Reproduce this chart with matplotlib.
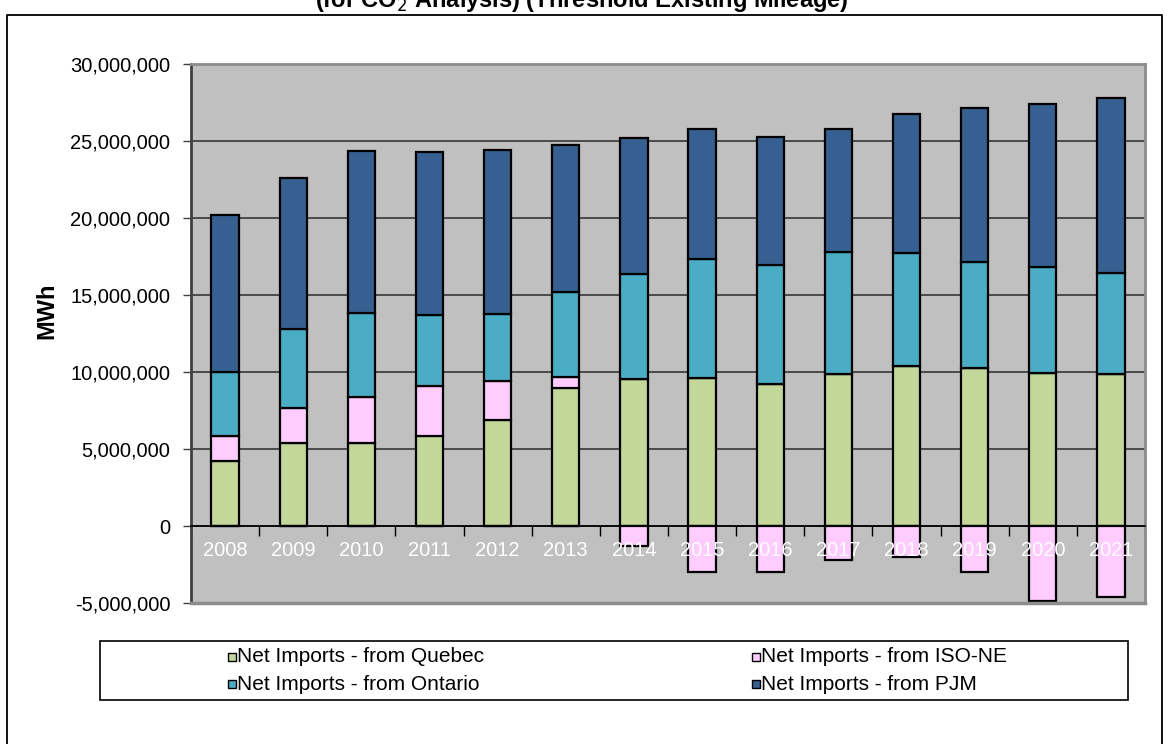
import matplotlib
matplotlib.use("Agg")
import matplotlib.pyplot as plt
from matplotlib.patches import Rectangle
from matplotlib.lines import Line2D
from matplotlib.ticker import FuncFormatter, FixedLocator
import numpy as np

plt.rcParams['font.family'] = ['Liberation Sans', 'DejaVu Sans']

# Net imports by source (MWh)
years = ['2008', '2009', '2010', '2011', '2012', '2013', '2014',
         '2015', '2016', '2017', '2018', '2019', '2020', '2021']
quebec = [4220000, 5370000, 5370000, 5860000, 6880000, 8940000, 9520000,
          9590000, 9220000, 9870000, 10390000, 10240000, 9960000, 9870000]
iso_ne = [1620000, 2270000, 3030000, 3230000, 2560000, 760000, -1300000,
          -3010000, -3010000, -2210000, -1990000, -3010000, -4870000, -4590000]
ontario = [4180000, 5130000, 5450000, 4630000, 4350000, 5510000, 6860000,
           7730000, 7730000, 7940000, 7360000, 6920000, 6840000, 6580000]
pjm = [10170000, 9810000, 10520000, 10570000, 10650000, 9550000, 8810000,
       8480000, 8290000, 7990000, 9000000, 10000000, 10600000, 11360000]

series_labels = ['Net Imports - from Quebec', 'Net Imports - from ISO-NE',
                 'Net Imports - from Ontario', 'Net Imports - from PJM']
colors = {'quebec': '#C4D79B', 'iso_ne': '#FFCCFF',
          'ontario': '#4BACC6', 'pjm': '#366092'}

W, H = 1169, 744
fig = plt.figure(figsize=(W / 100, H / 100), dpi=100)
fig.patch.set_facecolor('white')


def fx(px):
    return px / W


def fy(py):
    return 1 - py / H


# Outer chart border (left, top, right)
fig.add_artist(Line2D([fx(7), fx(7), fx(1162), fx(1162)],
                      [0, fy(15), fy(15), 0], color='black', lw=1.3,
                      transform=fig.transFigure))

# Heading, partly above the canvas
fig.text(fx(582), fy(7), '(for CO$_2$ Analysis) (Threshold Existing Mileage)',
         ha='center', va='baseline', fontsize=17, fontweight='bold')

ax = fig.add_axes([fx(191), fy(603), (1145 - 191) / W, (603 - 64) / H])
ax.set_facecolor('#C0C0C0')

x = np.arange(len(years))
q = np.array(quebec, dtype=float)
iso = np.array(iso_ne, dtype=float)
ont = np.array(ontario, dtype=float)
pj = np.array(pjm, dtype=float)

iso_pos = np.clip(iso, 0, None)
iso_neg = np.clip(iso, None, 0)
width = 0.40
bar_kw = dict(width=width, edgecolor='black', linewidth=1.6, zorder=3)

ax.bar(x, q, color=colors['quebec'], **bar_kw)
ax.bar(x, iso_pos, bottom=q, color=colors['iso_ne'], **bar_kw)
ax.bar(x, iso_neg, bottom=0, color=colors['iso_ne'], **bar_kw)
ax.bar(x, ont, bottom=q + iso_pos, color=colors['ontario'], **bar_kw)
ax.bar(x, pj, bottom=q + iso_pos + ont, color=colors['pjm'], **bar_kw)

ax.set_xlim(-0.5, len(years) - 0.5)
ax.set_ylim(-5000000, 30000000)

# Gridlines
ax.yaxis.set_major_locator(FixedLocator(np.arange(-5000000, 30000001, 5000000)))
ax.yaxis.grid(True, color='#2b2b2b', lw=1.1, zorder=1)
ax.set_axisbelow(True)
ax.yaxis.set_major_formatter(FuncFormatter(lambda v, p: f'{v:,.0f}'))
ax.tick_params(axis='y', direction='out', length=6, width=1, color='#404040',
               labelsize=14.5, pad=9, labelcolor='black')

# Category axis sits on zero, with ticks between categories
ax.spines['bottom'].set_position(('data', 0))
ax.spines['bottom'].set_color('black')
ax.spines['bottom'].set_linewidth(1.2)
ax.spines['bottom'].set_zorder(4)
ax.set_xticks(np.arange(-0.5, len(years), 1.0))
ax.set_xticklabels([])
ax.tick_params(axis='x', direction='out', length=7, width=1, color='black')
for i, yr in enumerate(years):
    ax.annotate(yr, xy=(i, 0), xytext=(0, -11), textcoords='offset points',
                ha='center', va='top', color='white', fontsize=14.5,
                zorder=5, annotation_clip=False)

ax.spines['left'].set_color('#404040')
ax.spines['left'].set_linewidth(2)
for s in ('top', 'right'):
    ax.spines[s].set_color('#8c8c8c')
    ax.spines[s].set_linewidth(2)
ax.plot([0, 1], [0, 0], transform=ax.transAxes, color='#8c8c8c', lw=2.5,
        clip_on=False, zorder=4)

ax.set_ylabel('MWh', fontsize=17, fontweight='bold')
ax.yaxis.set_label_coords((58 - 191) / (1145 - 191), (603 - 311) / (603 - 64))

# Legend box
fig.add_artist(Rectangle((fx(100), fy(700)), (1128 - 100) / W, (700 - 641) / H,
                         transform=fig.transFigure, facecolor='white',
                         edgecolor='black', lw=1.2))
legend_items = [
    (series_labels[0], colors['quebec'], 232, 657),
    (series_labels[2], colors['ontario'], 232, 684),
    (series_labels[1], colors['iso_ne'], 756, 657),
    (series_labels[3], colors['pjm'], 756, 684),
]
sq = 8
for label, col, mx, my in legend_items:
    fig.add_artist(Rectangle((fx(mx - sq / 2), fy(my + sq / 2)), sq / W, sq / H,
                             transform=fig.transFigure, facecolor=col,
                             edgecolor='black', lw=1.0))
    fig.text(fx(mx + 5), fy(my), label, ha='left', va='center', fontsize=15)

fig.savefig('out.png', dpi=100, facecolor='white')
